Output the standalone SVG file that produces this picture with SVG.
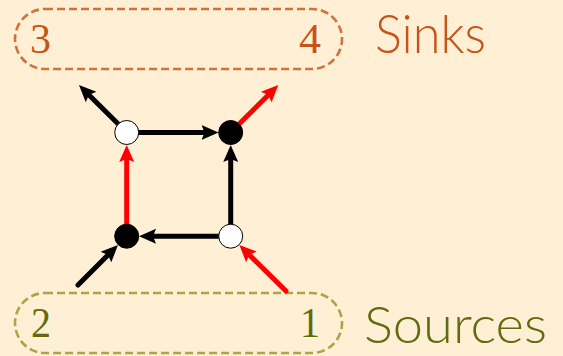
<svg xmlns="http://www.w3.org/2000/svg" width="563" height="356" viewBox="0 0 563 356">
  <defs>
    <style>
      .edge { fill: none; stroke-width: 5; stroke-linecap: round; }
      .blk { stroke: #000000; }
      .red { stroke: #ff0000; }
      .node { stroke: #000000; stroke-width: 1; }
      .white { fill: #ffffff; }
      .black { fill: #000000; }
      .pill { fill: none; stroke-width: 2.6; stroke-dasharray: 8 4; }
      .digit { font-family: "Liberation Serif", "Times New Roman", serif; font-size: 43px; }
      .label { font-family: Lato, "Open Sans", sans-serif; font-weight: 300; }
      .sink { fill: #c5541a; }
      .src { fill: #5e6b0e; }
    </style>
    <marker id="headBlack" markerUnits="userSpaceOnUse" viewBox="0 0 17 16" markerWidth="17" markerHeight="16" refX="4" refY="8" orient="auto">
      <path d="M0,0.5 L17,8 L0,15.5 L3,8 Z" fill="#000000"/>
    </marker>
    <marker id="headRed" markerUnits="userSpaceOnUse" viewBox="0 0 17 16" markerWidth="17" markerHeight="16" refX="4" refY="8" orient="auto">
      <path d="M0,0.5 L17,8 L0,15.5 L3,8 Z" fill="#ff0000"/>
    </marker>
  </defs>

  <rect width="563" height="356" fill="#ffefd5"/>

  <!-- sink group -->
  <g id="sinks">
    <rect class="pill" x="15" y="9" width="327" height="60" rx="30" stroke="#d2713c"/>
    <text class="digit sink" x="30" y="53" textLength="21" lengthAdjust="spacingAndGlyphs">3</text>
    <text class="digit sink" x="299" y="53" textLength="22" lengthAdjust="spacingAndGlyphs">4</text>
    <text class="label sink" x="375" y="53" font-size="54" textLength="111" lengthAdjust="spacingAndGlyphs">Sinks</text>
  </g>

  <!-- source group -->
  <g id="sources">
    <rect class="pill" x="15" y="293" width="327" height="60" rx="30" stroke="#a8a748"/>
    <text class="digit src" x="31" y="337" textLength="20" lengthAdjust="spacingAndGlyphs">2</text>
    <text class="digit src" x="300" y="337" textLength="20" lengthAdjust="spacingAndGlyphs">1</text>
    <text class="label src" x="364" y="343" font-size="52" textLength="183" lengthAdjust="spacingAndGlyphs">Sources</text>
  </g>

  <!-- connectors -->
  <g id="edges">
    <path class="edge blk" d="M139,132.5 H205.5" marker-end="url(#headBlack)"/>
    <path class="edge blk" d="M230.7,224 V158" marker-end="url(#headBlack)"/>
    <path class="edge blk" d="M218.5,236.2 H152" marker-end="url(#headBlack)"/>
    <path class="edge red" d="M126.7,224 V158" marker-end="url(#headRed)"/>
    <path class="edge blk" d="M118,123.8 L88.2,94.2" marker-end="url(#headBlack)"/>
    <path class="edge red" d="M239.4,123.8 L269.1,94.2" marker-end="url(#headRed)"/>
    <path class="edge blk" d="M78,285 L108.8,254.2" marker-end="url(#headBlack)"/>
    <path class="edge red" d="M286,291 L248.6,254.1" marker-end="url(#headRed)"/>
  </g>

  <!-- vertices -->
  <g id="v-top-left"><circle class="node white" cx="126.7" cy="132.5" r="12"/></g>
  <g id="v-top-right"><circle class="node black" cx="230.7" cy="132.5" r="12"/></g>
  <g id="v-bottom-left"><circle class="node black" cx="126.7" cy="236.2" r="12"/></g>
  <g id="v-bottom-right"><circle class="node white" cx="230.7" cy="236.2" r="12"/></g>
</svg>
